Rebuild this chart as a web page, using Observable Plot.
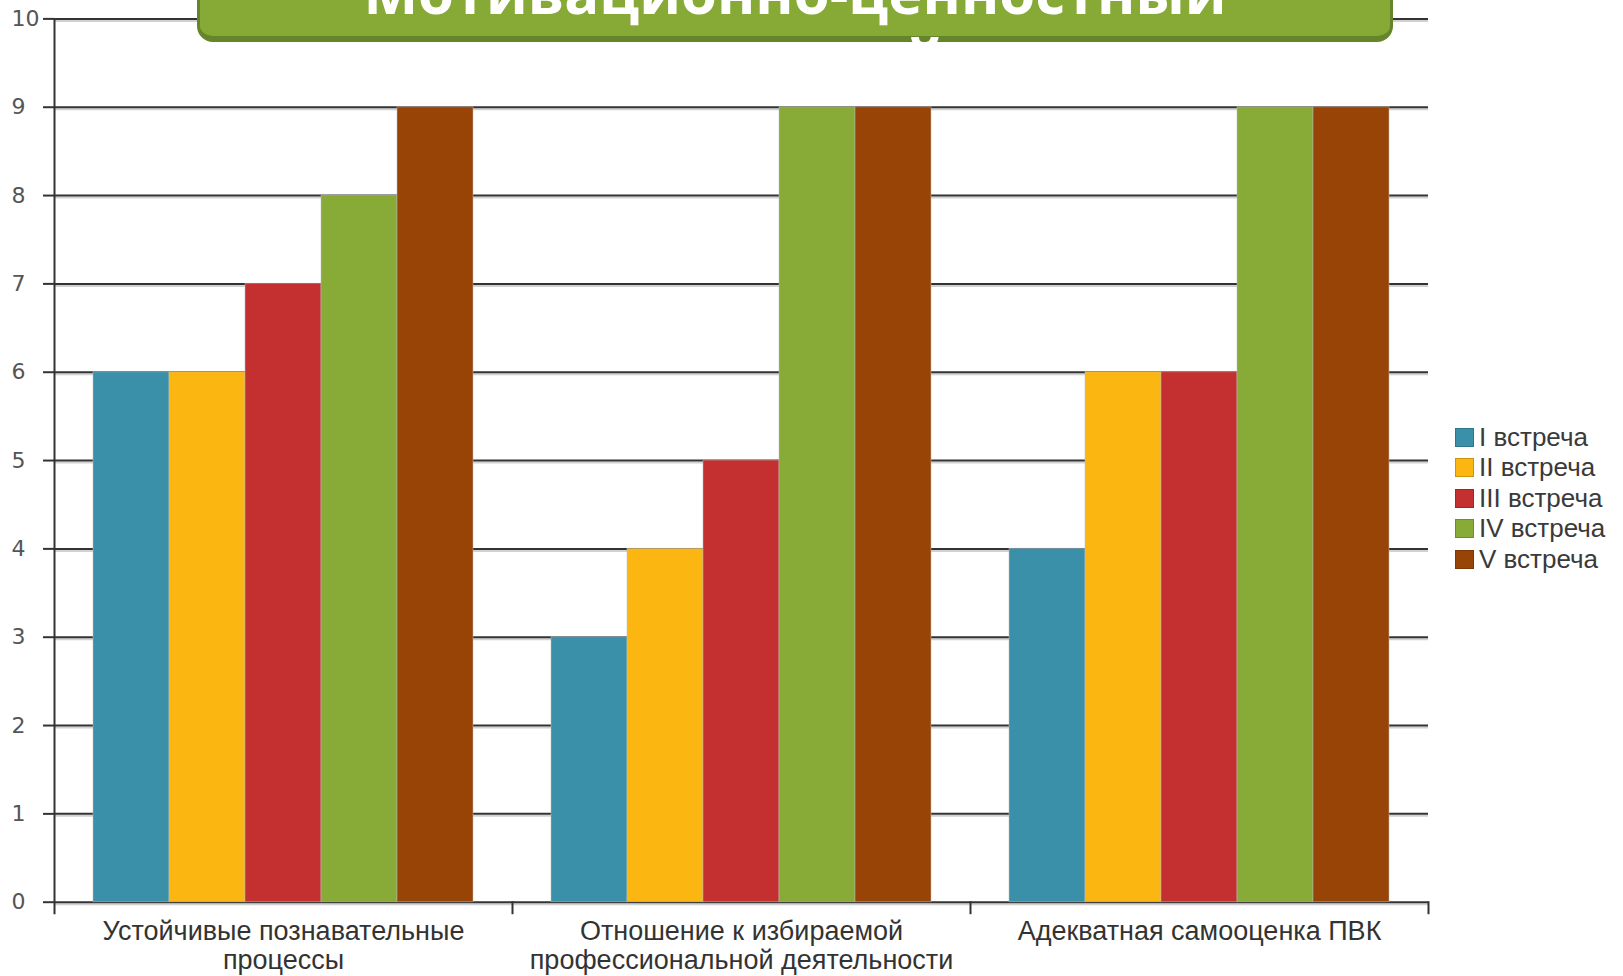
<!DOCTYPE html>
<html>
<head>
<meta charset="utf-8">
<script src="https://cdn.jsdelivr.net/npm/d3@7"></script>
<script src="https://cdn.jsdelivr.net/npm/@observablehq/plot@0.6"></script>
<style>
  html, body { margin: 0; padding: 0; background: #fff; overflow: hidden; }
  #wrap { position: relative; width: 1623px; height: 976px; overflow: hidden; }
  #chart { position: absolute; left: 0; top: 0; }
  #titlebox {
    position: absolute; left: 197px; top: -30px; width: 1196px; height: 72px;
    box-sizing: border-box; background: #86aa35;
    border: 3px solid #65852a; border-bottom-width: 6px; border-radius: 16px;
  }
  #title {
    position: absolute; left: 197px; width: 1196px; top: -42px;
    text-align: center; color: #fff; font-family: "Open Sans", sans-serif;
    font-weight: 700; font-size: 58px; line-height: 68px; white-space: nowrap;
  }
  #legend { position: absolute; left: 1455px; top: 422px; font-family: "Liberation Sans", Arial, sans-serif; }
  .li { display: flex; align-items: center; height: 30.5px; font-size: 26px; color: #3a3a3a; }
  .sw { width: 19px; height: 19px; box-sizing: border-box; border: 1px solid rgba(0,0,0,0.18); margin-right: 5px; }
</style>
</head>
<body>
<div id="wrap">
  <div id="chart"></div>
  <div id="titlebox"></div>
  <div id="title"></div>
  <div id="legend"></div>
</div>
<script>
// ---- data ----
const titleLines = ["Мотивационно-ценностный", "критерий"];
const categories = [
  "Устойчивые познавательные процессы",
  "Отношение к избираемой профессиональной деятельности",
  "Адекватная самооценка ПВК"
];
const categoryLabels = [
  "Устойчивые познавательные\nпроцессы",
  "Отношение к избираемой\nпрофессиональной деятельности",
  "Адекватная самооценка ПВК"
];
const series = ["I встреча", "II встреча", "III встреча", "IV встреча", "V встреча"];
const valuesI   = [6, 3, 4];
const valuesII  = [6, 4, 6];
const valuesIII = [7, 5, 6];
const valuesIV  = [8, 9, 9];
const valuesV   = [9, 9, 9];
const colors = ["#3a90a8", "#fbb612", "#c4302f", "#87ab36", "#984406"];
const yTicks = [0, 1, 2, 3, 4, 5, 6, 7, 8, 9, 10];

// ---- table ----
const seriesValues = [valuesI, valuesII, valuesIII, valuesIV, valuesV];
const rows = [];
categories.forEach((c, ci) => series.forEach((s, si) => rows.push({cat: c, series: s, value: seriesValues[si][ci]})));

// ---- layout ----
const W = 1623, H = 976;
const mL = 54, mR = 195, mT = 18.4, mB = 74.3;
const plotH = H - mT - mB;

const chart = Plot.plot({
  width: W, height: H,
  marginLeft: mL, marginRight: mR, marginTop: mT, marginBottom: mB,
  style: {fontFamily: "'Liberation Sans', Arial, sans-serif", color: "#333", background: "transparent", overflow: "visible"},
  fx: {domain: categories, padding: 0},
  x: {domain: series, paddingInner: 0, paddingOuter: 0.5, axis: null},
  y: {domain: [0, 10], axis: null},
  color: {domain: series, range: colors},
  marks: [
    Plot.gridY(yTicks, {stroke: "#999", strokeOpacity: 0.45, strokeWidth: 2, dy: 2}),
    Plot.gridY(yTicks, {stroke: "#333", strokeOpacity: 1, strokeWidth: 2}),
    Plot.barY(rows, {fx: "cat", x: "series", y: "value", fill: "series", stroke: "#bbb", strokeOpacity: 0.5, strokeWidth: 1}),
    Plot.frame({anchor: "left", facetAnchor: "left", stroke: "#333", strokeWidth: 2, insetBottom: -11}),
    Plot.frame({anchor: "right", stroke: "#333", strokeWidth: 2, insetTop: plotH, insetBottom: -11}),
    Plot.axisY(yTicks, {tickSize: 11, tickPadding: 32, textAnchor: "start", fontSize: 22, fontFamily: "'DejaVu Sans', sans-serif",
      stroke: "#333", strokeWidth: 2, fill: "#555", label: null, tickFormat: d => String(d)}),
    Plot.axisFx({anchor: "bottom", tickSize: 0, tickPadding: 17, fontSize: 27, lineHeight: 1.07, fill: "#333", label: null,
      tickFormat: d => categoryLabels[categories.indexOf(d)]})
  ]
});
document.getElementById("chart").appendChild(chart);

// title
document.getElementById("title").innerHTML = titleLines.map(t => `<div>${t}</div>`).join("");

// legend
const lg = document.getElementById("legend");
series.forEach((s, i) => {
  const row = document.createElement("div");
  row.className = "li";
  const sw = document.createElement("div");
  sw.className = "sw";
  sw.style.background = colors[i];
  const tx = document.createElement("span");
  tx.textContent = s;
  row.appendChild(sw); row.appendChild(tx);
  lg.appendChild(row);
});
</script>
</body>
</html>
